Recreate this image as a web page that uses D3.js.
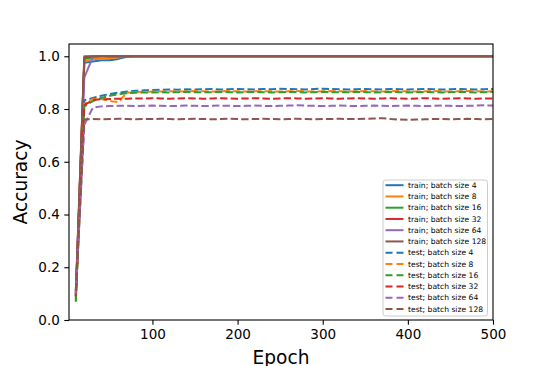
<!DOCTYPE html>
<html>
<head>
<meta charset="utf-8">
<script src="https://cdn.jsdelivr.net/npm/d3@7/dist/d3.min.js"></script>
<style>
  body { margin: 0; background: #fff; }
  text { font-family: "DejaVu Sans", sans-serif; fill: #000; }
</style>
</head>
<body>
<svg></svg>
<script>
const width = 548;
const height = 366;

// x values (epochs)
const epochs = [10,20,30,40,50,60,70,80,90,100,
  110,120,130,140,150,160,170,180,190,200,
  210,220,230,240,250,260,270,280,290,300,
  310,320,330,340,350,360,370,380,390,400,
  410,420,430,440,450,460,470,480,490,500];

const batchSizes = [4, 8, 16, 32, 64, 128];
const colors = ["#1f77b4", "#ff7f0e", "#2ca02c", "#d62728", "#9467bd", "#8c564b"];

// train accuracy
const train4 = [0.09,0.975,0.98,0.985,0.985,0.99,0.998,1,1,1,
  1,1,1,1,1,1,1,1,1,1, 1,1,1,1,1,1,1,1,1,1,
  1,1,1,1,1,1,1,1,1,1, 1,1,1,1,1,1,1,1,1,1];
const train8 = [0.1,0.98,0.99,0.99,0.993,0.995,1,1,1,1,
  1,1,1,1,1,1,1,1,1,1, 1,1,1,1,1,1,1,1,1,1,
  1,1,1,1,1,1,1,1,1,1, 1,1,1,1,1,1,1,1,1,1];
const train16 = [0.07,0.99,0.996,1,1,1,1,1,1,1,
  1,1,1,1,1,1,1,1,1,1, 1,1,1,1,1,1,1,1,1,1,
  1,1,1,1,1,1,1,1,1,1, 1,1,1,1,1,1,1,1,1,1];
const train32 = [0.09,0.995,1,1,1,1,1,1,1,1,
  1,1,1,1,1,1,1,1,1,1, 1,1,1,1,1,1,1,1,1,1,
  1,1,1,1,1,1,1,1,1,1, 1,1,1,1,1,1,1,1,1,1];
const train64 = [0.1,0.92,0.997,1,1,1,1,1,1,1,
  1,1,1,1,1,1,1,1,1,1, 1,1,1,1,1,1,1,1,1,1,
  1,1,1,1,1,1,1,1,1,1, 1,1,1,1,1,1,1,1,1,1];
const train128 = [0.11,1,1,1,1,1,1,1,1,1,
  1,1,1,1,1,1,1,1,1,1, 1,1,1,1,1,1,1,1,1,1,
  1,1,1,1,1,1,1,1,1,1, 1,1,1,1,1,1,1,1,1,1];

// test accuracy
const test4 = [0.09,0.833,0.842,0.85,0.857,0.862,0.866,0.869,0.871,0.872,
  0.873,0.874,0.873,0.875,0.874,0.875,0.876,0.874,0.875,0.876,
  0.875,0.874,0.876,0.875,0.877,0.876,0.875,0.874,0.876,0.877,
  0.876,0.875,0.874,0.875,0.876,0.875,0.874,0.876,0.875,0.874,
  0.875,0.876,0.875,0.874,0.875,0.876,0.875,0.874,0.875,0.876];
const test8 = [0.08,0.82,0.838,0.838,0.83,0.826,0.862,0.864,0.865,0.866,
  0.866,0.867,0.866,0.867,0.868,0.867,0.866,0.867,0.868,0.867,
  0.866,0.867,0.868,0.867,0.866,0.867,0.868,0.867,0.866,0.867,
  0.868,0.867,0.866,0.867,0.868,0.867,0.866,0.867,0.868,0.867,
  0.866,0.867,0.868,0.867,0.866,0.867,0.868,0.867,0.866,0.867];
const test16 = [0.07,0.81,0.83,0.842,0.85,0.856,0.86,0.862,0.863,0.863,
  0.864,0.863,0.864,0.865,0.864,0.863,0.864,0.865,0.864,0.863,
  0.864,0.865,0.864,0.863,0.864,0.865,0.864,0.863,0.864,0.865,
  0.864,0.863,0.864,0.865,0.864,0.863,0.864,0.865,0.864,0.863,
  0.864,0.865,0.864,0.863,0.864,0.865,0.864,0.863,0.864,0.865];
const test32 = [0.09,0.815,0.834,0.837,0.838,0.839,0.839,0.84,0.84,0.841,
  0.84,0.839,0.84,0.841,0.84,0.839,0.84,0.841,0.84,0.839,
  0.84,0.841,0.84,0.839,0.84,0.841,0.84,0.839,0.84,0.841,
  0.84,0.839,0.84,0.841,0.84,0.839,0.84,0.841,0.84,0.839,
  0.84,0.841,0.84,0.839,0.84,0.841,0.84,0.839,0.84,0.84];
const test64 = [0.1,0.74,0.805,0.81,0.811,0.812,0.812,0.811,0.812,0.813,
  0.812,0.811,0.812,0.813,0.812,0.811,0.812,0.813,0.812,0.811,
  0.812,0.813,0.812,0.811,0.812,0.813,0.814,0.813,0.812,0.811,
  0.812,0.813,0.812,0.811,0.812,0.813,0.812,0.811,0.812,0.813,
  0.812,0.811,0.812,0.813,0.812,0.811,0.812,0.813,0.814,0.813];
const test128 = [0.11,0.76,0.762,0.761,0.762,0.763,0.762,0.761,0.762,0.762,
  0.763,0.762,0.761,0.762,0.763,0.762,0.761,0.762,0.763,0.762,
  0.761,0.762,0.763,0.762,0.761,0.762,0.763,0.762,0.761,0.762,
  0.762,0.763,0.762,0.762,0.763,0.764,0.765,0.762,0.76,0.759,
  0.76,0.761,0.762,0.762,0.761,0.762,0.763,0.762,0.761,0.762];

const trainSeries = [train4, train8, train16, train32, train64, train128];
const testSeries = [test4, test8, test16, test32, test64, test128];

const xTicks = [100, 200, 300, 400, 500];
const yTicks = [0, 0.2, 0.4, 0.6, 0.8, 1.0];

// plot area
const plotLeft = 69, plotRight = 493, plotTop = 44, plotBottom = 320;

let svg = d3.select("svg").attr("width", width).attr("height", height);

let xScale = d3.scaleLinear().domain([2, 500]).range([plotLeft, plotRight]);
let yScale = d3.scaleLinear().domain([0, 1.0465]).range([plotBottom, plotTop]);

let line = d3.line()
  .x((d, i) => xScale(epochs[i]))
  .y(d => yScale(d));

let plot = svg.append("g");

//solid train lines
trainSeries.forEach((s, k) => {
  plot.append("path")
    .attr("d", line(s))
    .attr("fill", "none")
    .attr("stroke", colors[k])
    .attr("stroke-width", 2)
    .attr("stroke-linejoin", "round");
});

//dashed test lines
testSeries.forEach((s, k) => {
  plot.append("path")
    .attr("d", line(s))
    .attr("fill", "none")
    .attr("stroke", colors[k])
    .attr("stroke-width", 2)
    .attr("stroke-dasharray", "7.4,3.2");
});

//axes
let xAxis = d3.axisBottom(xScale).tickValues(xTicks).tickSize(4.7).tickPadding(4.5);
let yAxis = d3.axisLeft(yScale).tickValues(yTicks).tickSize(4.7).tickPadding(4.5)
  .tickFormat(d3.format(".1f"));

let gx = svg.append("g").attr("transform", `translate(0,${plotBottom})`).call(xAxis);
let gy = svg.append("g").attr("transform", `translate(${plotLeft},0)`).call(yAxis);
[gx, gy].forEach(g => {
  g.select(".domain").remove();
  g.selectAll(".tick line").attr("stroke", "#000").attr("stroke-width", 1.1);
  g.selectAll(".tick text")
    .style("font-family", "DejaVu Sans")
    .style("font-size", "13.5px")
    .attr("fill", "#000");
});

//frame
svg.append("rect")
  .attr("x", plotLeft).attr("y", plotTop)
  .attr("width", plotRight - plotLeft).attr("height", plotBottom - plotTop)
  .attr("fill", "none").attr("stroke", "#000").attr("stroke-width", 1.1);

//axis labels
svg.append("text")
  .attr("x", (plotLeft + plotRight) / 2).attr("y", 363.5)
  .attr("text-anchor", "middle")
  .style("font-size", "18.6px")
  .text("Epoch");
svg.append("text")
  .attr("transform", `translate(27,${(plotTop + plotBottom) / 2}) rotate(-90)`)
  .attr("text-anchor", "middle")
  .style("font-size", "18.6px")
  .text("Accuracy");

//legend
let legend = svg.append("g");
legend.append("rect")
  .attr("x", 383).attr("y", 180).attr("width", 104.5).attr("height", 136)
  .attr("rx", 2.5)
  .attr("fill", "#fff").attr("fill-opacity", 0.8)
  .attr("stroke", "#cccccc").attr("stroke-width", 1);

let entries = [];
batchSizes.forEach((b, k) => entries.push({label: "train; batch size " + b, color: colors[k], dash: null}));
batchSizes.forEach((b, k) => entries.push({label: "test; batch size " + b, color: colors[k], dash: "7,4"}));

entries.forEach((e, i) => {
  let y = 185.2 + i * 11.25;
  legend.append("line")
    .attr("x1", 385.5).attr("x2", 403.5)
    .attr("y1", y).attr("y2", y)
    .attr("stroke", e.color).attr("stroke-width", 2)
    .attr("stroke-dasharray", e.dash);
  legend.append("text")
    .attr("x", 408).attr("y", y + 2.7)
    .style("font-size", "7.6px")
    .text(e.label);
});
</script>
</body>
</html>
